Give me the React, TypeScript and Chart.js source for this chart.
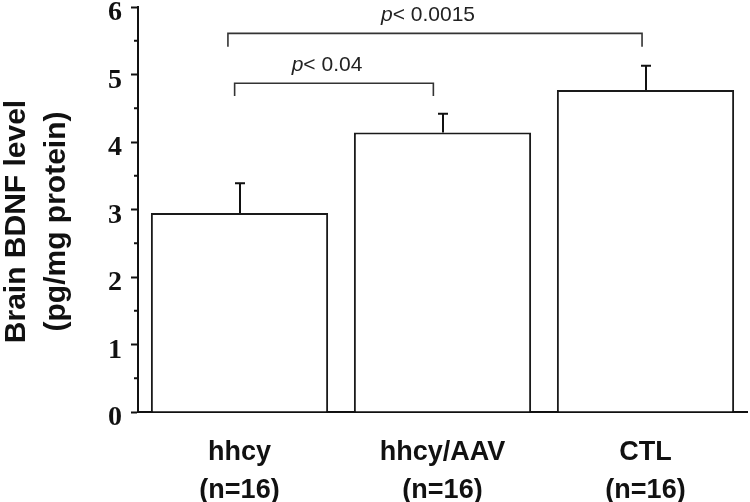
import React, { useEffect, useRef } from 'react';
import { Chart, registerables } from 'chart.js';

Chart.register(...registerables);

// ---- data ----
const categories: string[][] = [
  ['hhcy', '(n=16)'],
  ['hhcy/AAV', '(n=16)'],
  ['CTL', '(n=16)'],
];
const means: number[] = [2.95, 4.14, 4.77];
const sems: number[] = [0.44, 0.28, 0.36];
const yMin = 0;
const yMax = 6;
const yStep = 1;
const yTitle: string[] = ['Brain BDNF level', '(pg/mg protein)'];
// significance brackets: category-index positions and y values (data units)
const comparisons = [
  { from: -0.057, to: 1.983, barY: 5.61, tipY: 5.41, p: '0.0015' },
  { from: -0.024, to: 0.955, barY: 4.87, tipY: 4.68, p: '0.04' },
];

const SANS = '"Liberation Sans", Arial, sans-serif';
const SERIF = '"Liberation Serif", "Times New Roman", serif';

const annotate = {
  id: 'annotate',
  afterDatasetsDraw(chart: any) {
    const ctx: CanvasRenderingContext2D = chart.ctx;
    const xs = chart.scales.x;
    const ys = chart.scales.y;
    ctx.save();

    // error bars (upper only)
    ctx.strokeStyle = '#111';
    ctx.lineWidth = 2;
    means.forEach((m, i) => {
      const px = Math.round(xs.getPixelForValue(i));
      const base = ys.getPixelForValue(m);
      const top = ys.getPixelForValue(m + sems[i]);
      ctx.beginPath();
      ctx.moveTo(px, base);
      ctx.lineTo(px, top);
      ctx.moveTo(px - 5, top);
      ctx.lineTo(px + 5, top);
      ctx.stroke();
    });

    // minor ticks on the y axis
    const axisX = ys.right;
    ctx.lineWidth = 2;
    for (let v = yMin + yStep / 2; v < yMax; v += yStep) {
      const py = ys.getPixelForValue(v);
      ctx.beginPath();
      ctx.moveTo(axisX - 4, py);
      ctx.lineTo(axisX, py);
      ctx.stroke();
    }

    // significance brackets
    ctx.strokeStyle = '#333';
    ctx.lineWidth = 1.6;
    comparisons.forEach((c) => {
      const x1 = xs.getPixelForValue(c.from);
      const x2 = xs.getPixelForValue(c.to);
      const yb = ys.getPixelForValue(c.barY);
      const yt = ys.getPixelForValue(c.tipY);
      ctx.beginPath();
      ctx.moveTo(x1, yt);
      ctx.lineTo(x1, yb);
      ctx.lineTo(x2, yb);
      ctx.lineTo(x2, yt);
      ctx.stroke();

      const italic = `italic 21px ${SANS}`;
      const normal = `21px ${SANS}`;
      const rest = '< ' + c.p;
      ctx.font = italic;
      const wP = ctx.measureText('p').width;
      ctx.font = normal;
      const wR = ctx.measureText(rest).width;
      const cx = (x1 + x2) / 2 - 7;
      const start = cx - (wP + wR) / 2;
      const baseline = yb - 12;
      ctx.fillStyle = '#222';
      ctx.textBaseline = 'alphabetic';
      ctx.textAlign = 'left';
      ctx.font = italic;
      ctx.fillText('p', start, baseline);
      ctx.font = normal;
      ctx.fillText(rest, start + wP, baseline);
    });

    // y-axis title (two rotated lines)
    const cy = (chart.chartArea.top + chart.chartArea.bottom) / 2 + 12;
    ctx.fillStyle = '#111';
    ctx.font = `bold 30px ${SANS}`;
    ctx.textAlign = 'center';
    ctx.textBaseline = 'alphabetic';
    ctx.translate(25, cy);
    ctx.rotate(-Math.PI / 2);
    ctx.fillText(yTitle[0], 0, 0);
    ctx.fillText(yTitle[1], 0, 40);

    ctx.restore();
  },
};

export default function App() {
  const ref = useRef<HTMLCanvasElement | null>(null);

  useEffect(() => {
    document.body.style.margin = '0';
    const canvas = ref.current;
    if (!canvas) return;
    const chart = new Chart(canvas, {
      type: 'bar',
      data: {
        labels: categories,
        datasets: [
          {
            data: means,
            backgroundColor: '#ffffff',
            borderColor: '#1a1a1a',
            borderWidth: 2,
            categoryPercentage: 1,
            barPercentage: 0.873,
          },
        ],
      },
      options: {
        animation: false,
        responsive: false,
        devicePixelRatio: 1,
        layout: { padding: { top: 7, right: 3, bottom: 0, left: 0 } },
        plugins: {
          legend: { display: false },
          tooltip: { enabled: false },
          title: { display: false },
        },
        scales: {
          x: {
            type: 'category',
            offset: true,
            grid: { display: false },
            border: { display: true, color: '#111', width: 2 },
            ticks: {
              color: '#111',
              font: { family: SANS, weight: 'bold', size: 27, lineHeight: 1.4 },
              padding: 14,
              maxRotation: 0,
              autoSkip: false,
            },
            afterFit: (s: any) => {
              s.height = 90;
              s.paddingLeft = 0;
              s.paddingRight = 0;
            },
          },
          y: {
            min: yMin,
            max: yMax,
            ticks: {
              stepSize: yStep,
              color: '#111',
              font: { family: SERIF, weight: 'bold', size: 28 },
              padding: 9,
              labelOffset: 6,
            },
            grid: {
              display: true,
              drawOnChartArea: false,
              drawTicks: true,
              tickLength: 7,
              tickColor: '#111',
              tickWidth: 2,
            },
            border: { display: true, color: '#111', width: 2 },
            title: { display: false },
            afterFit: (s: any) => {
              s.width = 138;
              s.paddingTop = 0;
              s.paddingBottom = 0;
            },
          },
        },
      },
      plugins: [annotate],
    });
    return () => chart.destroy();
  }, []);

  return (
    <div style={{ width: 750, height: 502, position: 'relative', background: '#fff' }}>
      <canvas ref={ref} width={750} height={502} style={{ display: 'block' }} />
    </div>
  );
}
